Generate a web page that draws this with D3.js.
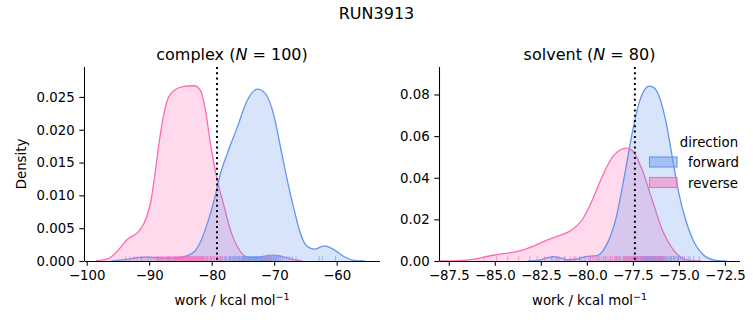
<!DOCTYPE html>
<html>
<head>
<meta charset="utf-8">
<script src="https://cdn.jsdelivr.net/npm/d3@7"></script>
<style>
  body { margin: 0; background: #fff; }
  text { font-family: "DejaVu Sans", sans-serif; fill: #000; }
  .axis path, .axis line { stroke: #000; stroke-width: 1.07; }
  .axis text { font-size: 13.3px; }
</style>
</head>
<body>
<script>
// ---- data ----
var directions = ['forward', 'reverse'];
var colors = ['#6495ED', '#FF69B4'];

// complex panel, kde curves (work, density)
var complexFwdX = [-96, -94, -92, -90.5, -89, -87, -85, -84.4, -82.8, -81.8, -80.7, -79.6, -78.6, -77.5, -75.9, -74.3, -72.7, -71.4, -70.0, -69.0, -67.9, -66.8, -65.8, -64.7, -63.6, -62.0, -60.4, -58.8, -57.2, -55.5];
var complexFwdY = [0, 0.0002, 0.0005, 0.0006, 0.0005, 0.0004, 0.0005, 0.00065, 0.0014, 0.0029, 0.0057, 0.0093, 0.0133, 0.0164, 0.0204, 0.0245, 0.0262, 0.0255, 0.0220, 0.0174, 0.0123, 0.0078, 0.0042, 0.0022, 0.0018, 0.0023, 0.0017, 0.00065, 0.0001, 0];
var complexRevX = [-98.5, -97.2, -96.3, -95.1, -94.3, -93.6, -91.5, -90.4, -89.8, -89.0, -88.2, -87.1, -86.0, -84.4, -82.8, -81.8, -81.0, -80.2, -79.1, -78.0, -77.0, -75.9, -74.3, -73.0, -71.8, -70.5, -69.2, -68.0, -66.8, -65.5];
var complexRevY = [0, 0.0002, 0.0005, 0.0015, 0.0024, 0.0032, 0.0047, 0.0067, 0.0088, 0.0138, 0.0194, 0.0245, 0.0260, 0.0266, 0.0267, 0.0260, 0.0230, 0.0179, 0.0123, 0.0083, 0.0047, 0.0022, 0.0006, 0.0005, 0.0007, 0.0009, 0.0008, 0.0005, 0.0002, 0];

// solvent panel, kde curves
var solventFwdX = [-83.2, -82.6, -82.2, -81.8, -81.4, -81.0, -80.5, -80.07, -79.44, -78.98, -78.44, -77.9, -77.54, -77.17, -76.85, -76.63, -76.4, -76.18, -75.72, -75.36, -75.0, -74.63, -74.09, -73.55, -73.0, -72.4];
var solventFwdY = [0, 0.0004, 0.0014, 0.0021, 0.0014, 0.0006, 0.0010, 0.0021, 0.0026, 0.0069, 0.0197, 0.0437, 0.0613, 0.0757, 0.0825, 0.0840, 0.0835, 0.0813, 0.0677, 0.0500, 0.0325, 0.0197, 0.0077, 0.0021, 0.0003, 0];
var solventRevX = [-88.0, -87.0, -86.2, -85.3, -84.8, -83.7, -83.0, -82.24, -81.5, -80.8, -80.26, -79.7, -79.17, -78.6, -78.08, -77.85, -77.6, -77.35, -76.99, -76.45, -75.9, -75.36, -74.8, -74.3, -73.8];
var solventRevY = [0, 0.0002, 0.0008, 0.0024, 0.0032, 0.0047, 0.0068, 0.0098, 0.0122, 0.0150, 0.0197, 0.0293, 0.0405, 0.0500, 0.0538, 0.0542, 0.0535, 0.0509, 0.0437, 0.0293, 0.0149, 0.0061, 0.0013, 0.0002, 0];

// rug values (individual work samples, estimated)
var complexRevRug = [-93.8, -93.1, -92.4, -91.9, -91.2, -90.8, -90.3, -89.9, -89.6, -89.2,
  -88.9, -88.7, -88.4, -88.2, -88.0, -87.8, -87.6, -87.4, -87.2, -87.0,
  -86.9, -86.7, -86.5, -86.4, -86.2, -86.0, -85.9, -85.7, -85.6, -85.4,
  -85.3, -85.1, -85.0, -84.9, -84.7, -84.6, -84.4, -84.3, -84.2, -84.0,
  -83.9, -83.8, -83.6, -83.5, -83.4, -83.2, -83.1, -83.0, -82.8, -82.7,
  -82.6, -82.4, -82.3, -82.2, -82.0, -81.9, -81.7, -81.6, -81.4, -81.3,
  -81.1, -81.0, -80.8, -80.6, -80.4, -80.2, -80.0, -79.8, -79.5, -79.2,
  -78.9, -78.6, -78.2, -77.7, -77.1, -76.4, -71.5, -70.6, -69.8, -69.2,
  -86.1, -85.8, -85.2, -84.8, -84.5, -84.1, -83.7, -83.3, -82.9, -82.5,
  -82.1, -81.8, -81.5, -85.5, -86.6, -87.1, -87.9, -88.6, -83.85, -84.65];
var complexFwdRug = [-91.3, -90.2, -88.6, -86.9, -85.1, -83.4, -82.2, -81.4, -80.7, -80.1,
  -79.6, -79.1, -78.7, -78.3, -77.9, -77.6, -77.3, -77.0, -76.7, -76.4,
  -76.2, -75.9, -75.7, -75.5, -75.2, -75.0, -74.8, -74.6, -74.4, -74.2,
  -74.0, -73.9, -73.7, -73.5, -73.4, -73.2, -73.1, -72.9, -72.8, -72.6,
  -72.5, -72.4, -72.2, -72.1, -72.0, -71.8, -71.7, -71.5, -71.4, -71.2,
  -71.0, -70.9, -70.7, -70.5, -70.3, -70.1, -69.9, -69.6, -69.3, -69.0,
  -68.7, -68.4, -68.0, -67.6, -67.1, -66.5, -62.8, -62.3, -60.2,
  -78.5, -77.8, -77.1, -76.5, -76.0, -75.6, -75.1, -74.7, -74.3, -73.8,
  -73.3, -73.0, -72.7, -72.3, -71.9, -71.6, -71.1, -70.8, -70.4, -70.0,
  -69.7, -69.4, -74.9, -74.1, -73.6, -72.95, -72.05, -71.3, -70.6, -76.9, -75.3];
var solventRevRug = [-85.6, -84.9, -84.3, -83.7, -83.1, -82.7, -82.3, -81.9, -81.5, -81.2,
  -80.9, -80.6, -80.4, -80.1, -79.9, -79.7, -79.5, -79.3, -79.1, -79.0,
  -78.8, -78.7, -78.5, -78.4, -78.3, -78.2, -78.0, -77.9, -77.8, -77.7,
  -77.6, -77.5, -77.4, -77.3, -77.2, -77.1, -77.0, -76.9, -76.8, -76.7,
  -76.6, -76.5, -76.3, -76.2, -76.0, -75.8, -75.6, -75.3, -75.0, -74.7,
  -79.8, -79.4, -79.2, -78.9, -78.6, -78.35, -78.1, -77.95, -77.75, -77.55,
  -77.45, -77.25, -77.05, -76.85, -76.55, -76.4, -76.1, -75.9, -80.3, -79.6,
  -78.25, -77.85, -77.65, -77.15, -76.95, -76.75, -81.7, -80.7, -78.45, -77.35];
var solventFwdRug = [-81.9, -81.6, -81.2, -80.4, -79.8, -79.4, -79.0, -78.7, -78.4, -78.2,
  -78.0, -77.9, -77.7, -77.6, -77.5, -77.4, -77.3, -77.2, -77.1, -77.0,
  -76.95, -76.9, -76.85, -76.8, -76.75, -76.7, -76.65, -76.6, -76.55, -76.5,
  -76.45, -76.4, -76.35, -76.3, -76.25, -76.2, -76.15, -76.1, -76.05, -76.0,
  -75.95, -75.9, -75.85, -75.8, -75.75, -75.7, -75.6, -75.5, -75.4, -75.3,
  -75.2, -75.1, -75.0, -74.9, -74.7, -74.5, -74.2, -73.9,
  -77.8, -77.45, -77.25, -77.05, -76.98, -76.88, -76.78, -76.68, -76.58, -76.48,
  -76.38, -76.28, -76.18, -76.08, -75.98, -75.88, -75.65, -75.45, -75.25, -75.05, -74.8, -74.4];

// free energy estimates (dotted lines)
var estimates = [-79.15, -77.39];

var complexXTicks = [-100, -90, -80, -70, -60];
var complexYTicks = [0, 0.005, 0.010, 0.015, 0.020, 0.025];
var solventXTicks = [-87.5, -85.0, -82.5, -80.0, -77.5, -75.0, -72.5];
var solventYTicks = [0, 0.02, 0.04, 0.06, 0.08];

// ---- drawing ----
var W = 753, H = 325;
var svg = d3.select('body').append('svg')
  .attr('width', W).attr('height', H);

svg.append('text')
  .attr('x', 376.5).attr('y', 19)
  .attr('text-anchor', 'middle')
  .style('font-size', '16px')
  .text('RUN3913');

function toPts(xs, ys) {
  return xs.map(function (x, i) { return [x, ys[i]]; });
}

function panel(p) {
  var g = svg.append('g').attr('transform', 'translate(' + p.left + ',' + p.top + ')');
  var w = p.width, h = p.height;
  var x = d3.scaleLinear().domain(p.xDomain).range([0, w]);
  var y = d3.scaleLinear().domain(p.yDomain).range([h, 0]);

  var area = d3.area()
    .x(function (d) { return x(d[0]); })
    .y0(h)
    .y1(function (d) { return y(d[1]); })
    .curve(d3.curveMonotoneX);
  var line = d3.line()
    .x(function (d) { return x(d[0]); })
    .y(function (d) { return y(d[1]); })
    .curve(d3.curveMonotoneX);

  // reverse drawn first, forward on top
  [1, 0].forEach(function (k) {
    var pts = p.curves[k];
    g.append('path').attr('d', area(pts))
      .attr('fill', colors[k]).attr('fill-opacity', 0.25).attr('stroke', 'none');
    g.append('path').attr('d', line(pts))
      .attr('fill', 'none').attr('stroke', colors[k]).attr('stroke-width', 1.3);
  });

  // rugs
  [0, 1].forEach(function (k) {
    g.selectAll('.rug' + k)
      .data(p.rugs[k])
      .enter()
      .append('line')
      .attr('x1', function (d) { return x(d); })
      .attr('x2', function (d) { return x(d); })
      .attr('y1', h)
      .attr('y2', h - h * 0.025)
      .attr('stroke', colors[k])
      .attr('stroke-opacity', 0.6)
      .attr('stroke-width', 1);
  });

  // estimate line
  g.append('line')
    .attr('x1', x(p.estimate)).attr('x2', x(p.estimate))
    .attr('y1', 0).attr('y2', h)
    .attr('stroke', '#000').attr('stroke-width', 2)
    .attr('stroke-dasharray', '2,3.3');

  var xAxis = d3.axisBottom(x).tickValues(p.xTicks).tickFormat(d3.format(p.xFmt))
    .tickSizeOuter(0).tickSize(4.7).tickPadding(4.7);
  var yAxis = d3.axisLeft(y).tickValues(p.yTicks).tickFormat(d3.format(p.yFmt))
    .tickSizeOuter(0).tickSize(4.7).tickPadding(4.7);
  g.append('g').attr('class', 'axis').attr('transform', 'translate(0,' + h + ')').call(xAxis);
  g.append('g').attr('class', 'axis').call(yAxis);
  g.selectAll('.axis .domain').attr('d', function () {
    return d3.select(this.parentNode).attr('transform') ? 'M0.5,0.5H' + w : 'M0.5,' + h + 'V0';
  });

  // title
  var t = g.append('text').attr('x', w / 2).attr('y', -7)
    .attr('text-anchor', 'middle').style('font-size', '16px');
  t.append('tspan').text(p.name + ' (');
  t.append('tspan').style('font-style', 'italic').text('N');
  t.append('tspan').text(' = ' + p.n + ')');

  // x label
  var xl = g.append('text').attr('x', w / 2).attr('y', h + 44)
    .attr('text-anchor', 'middle').style('font-size', '13.3px');
  xl.append('tspan').text('work / kcal mol');
  xl.append('tspan').attr('dy', -5).style('font-size', '9.5px').text('\u22121');

  if (p.ylabel) {
    g.append('text')
      .attr('transform', 'translate(' + (-58) + ',' + (h / 2) + ') rotate(-90)')
      .attr('text-anchor', 'middle').style('font-size', '13.3px')
      .text(p.ylabel);
  }
  return g;
}

panel({
  left: 84, top: 67, width: 296, height: 194,
  xDomain: [-100.43, -53.07], yDomain: [0, 0.02956],
  curves: [toPts(complexFwdX, complexFwdY), toPts(complexRevX, complexRevY)],
  rugs: [complexFwdRug, complexRevRug],
  estimate: estimates[0],
  xTicks: complexXTicks, yTicks: complexYTicks, xFmt: 'd', yFmt: '.3f',
  name: 'complex', n: 100, ylabel: 'Density'
});

panel({
  left: 439, top: 67, width: 301, height: 194,
  xDomain: [-88.03, -71.68], yDomain: [0, 0.0932],
  curves: [toPts(solventFwdX, solventFwdY), toPts(solventRevX, solventRevY)],
  rugs: [solventFwdRug, solventRevRug],
  estimate: estimates[1],
  xTicks: solventXTicks, yTicks: solventYTicks, xFmt: '.1f', yFmt: '.2f',
  name: 'solvent', n: 80, ylabel: null
});

// legend
var leg = svg.append('g').attr('transform', 'translate(649,0)');
leg.append('text').attr('x', 60).attr('y', 147)
  .attr('text-anchor', 'middle').style('font-size', '13.3px').text('direction');
directions.forEach(function (d, i) {
  var yy = 157 + i * 20.5;
  leg.append('rect').attr('x', 0.5).attr('y', yy).attr('width', 27.5).attr('height', 10)
    .attr('fill', colors[i]).attr('fill-opacity', 0.45)
    .attr('stroke', colors[i]).attr('stroke-width', 1.1);
  leg.append('text').attr('x', 39).attr('y', yy + 10)
    .style('font-size', '13.3px').text(d);
});
</script>
</body>
</html>
